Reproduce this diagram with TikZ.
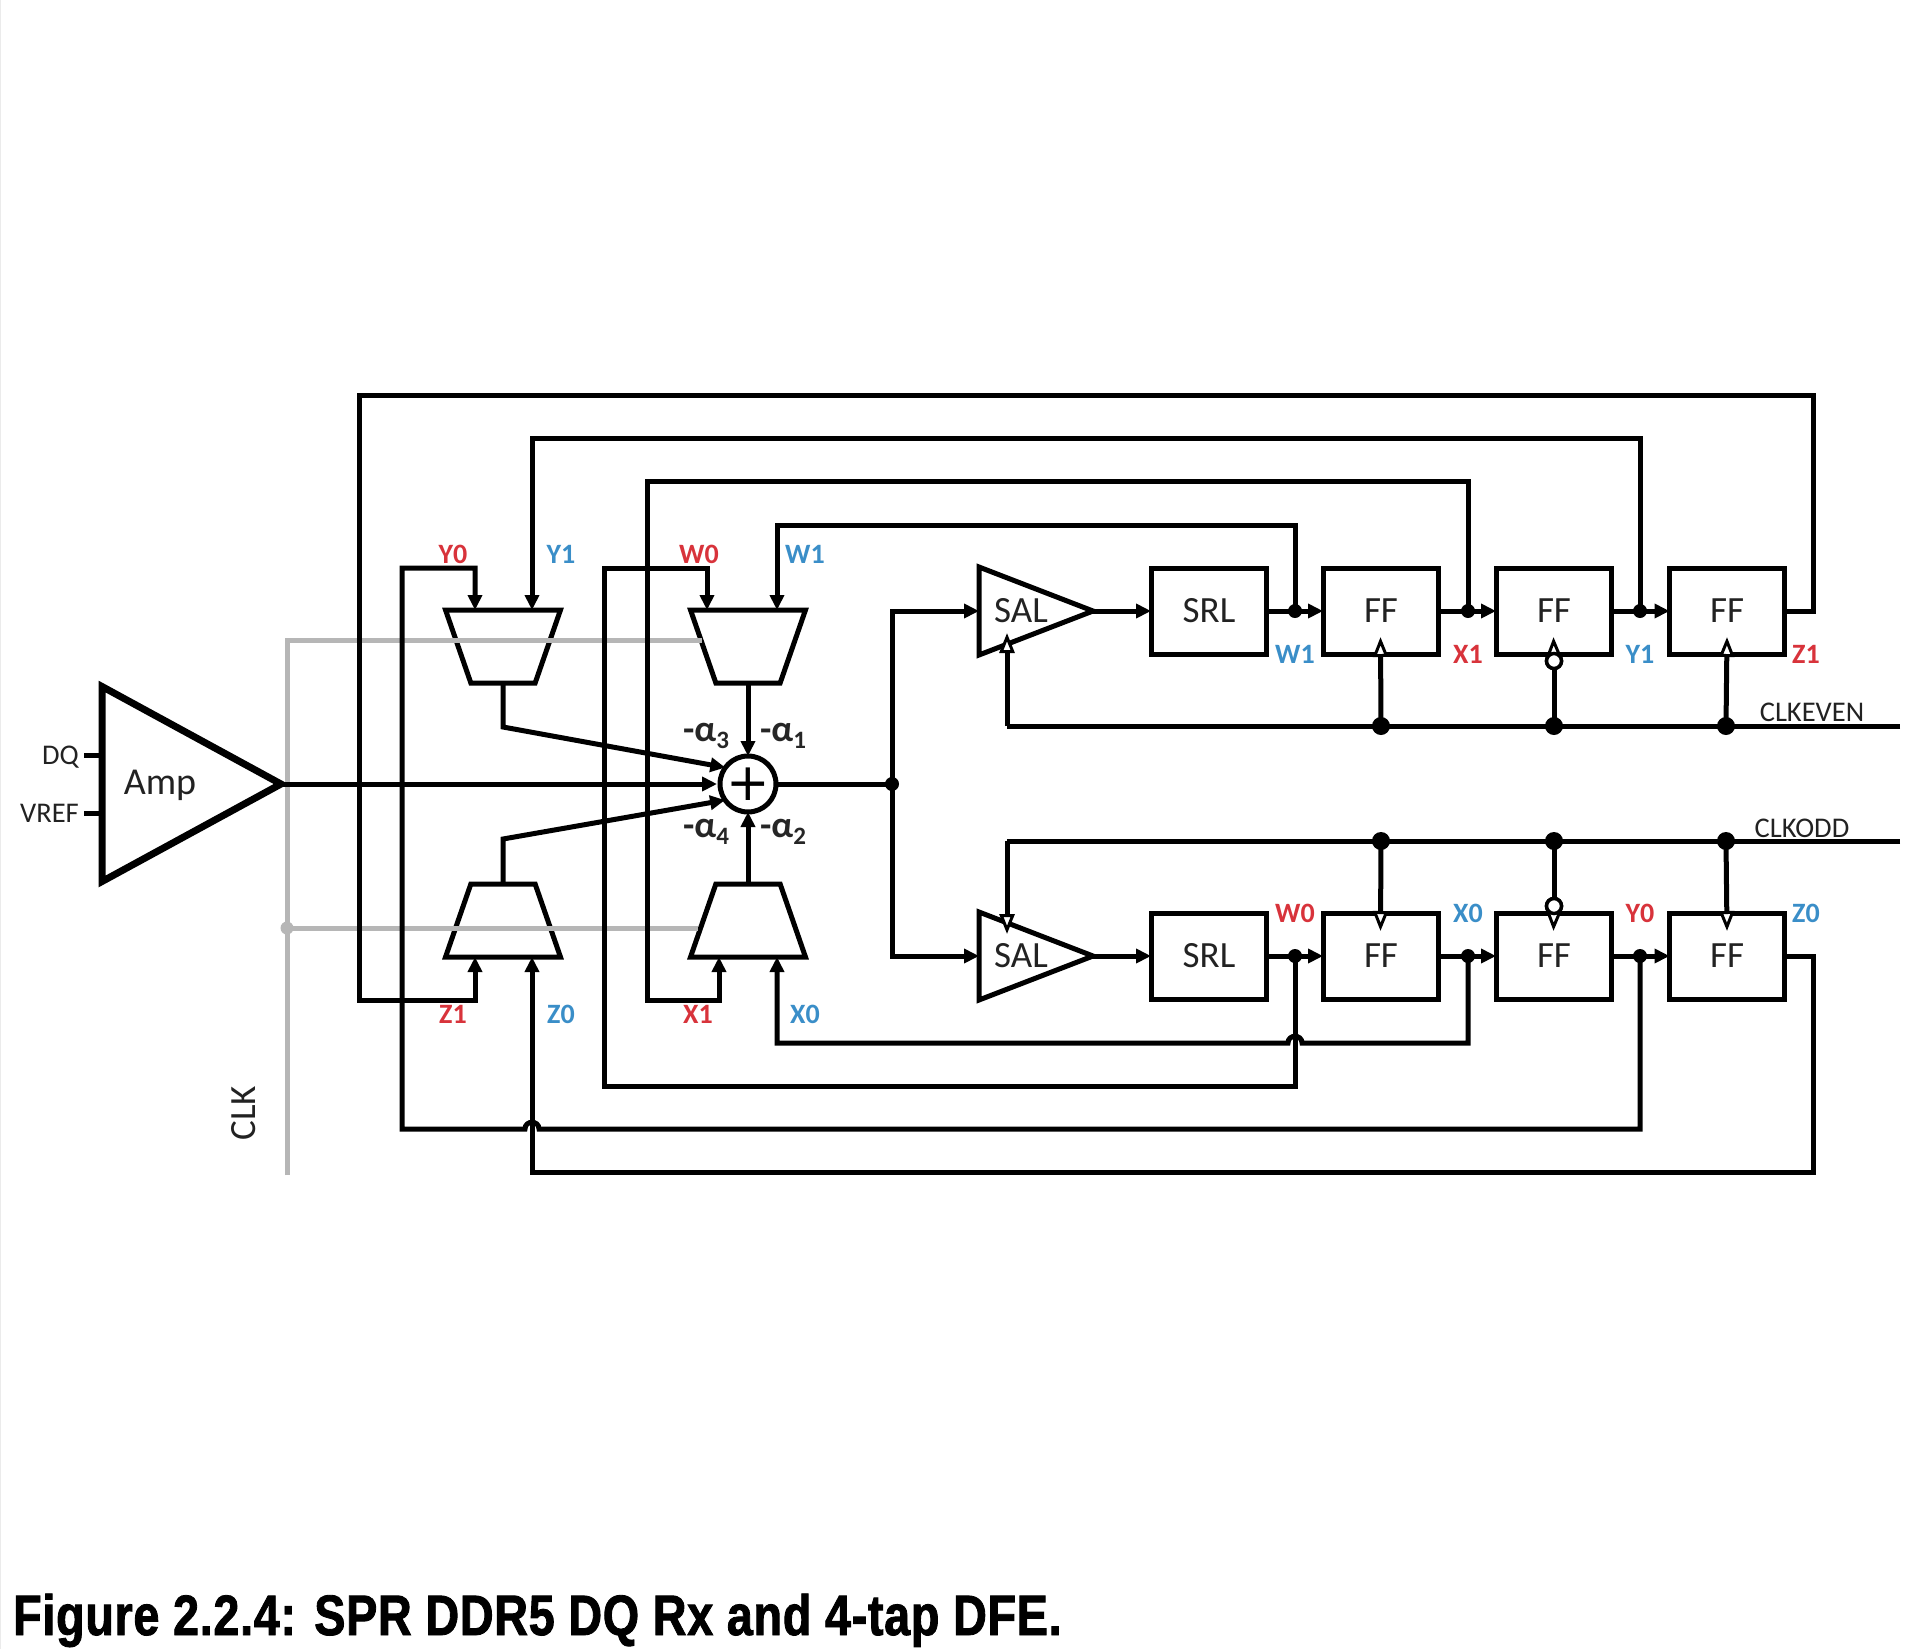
\documentclass[tikz,border=0pt]{standalone}
\usepackage{fontspec}
\setmainfont{Carlito}
\newfontfamily\capfont[FakeStretch=0.82,LetterSpace=1.2,BoldFeatures={FakeBold=1.5}]{Liberation Sans}
\newfontfamily\plusfont{DejaVu Sans}
\usetikzlibrary{arrows.meta,shapes.geometric,calc}
\definecolor{lblred}{HTML}{D8333B}
\definecolor{lblblue}{HTML}{3A8EC8}
\definecolor{clkgray}{HTML}{B6B6B6}
\definecolor{txtgray}{HTML}{222222}
\newcommand{\alphalabel}[1]{-α\raisebox{-7pt}{\fontsize{25}{25}\selectfont #1}}
\newcommand{\shapebody}{\phantom{\rule{10pt}{10pt}}}
\tikzset{
  x=1pt,y=-1pt,
  wire/.style={line width=5pt,draw=black,line join=miter},
  graywire/.style={line width=5pt,draw=clkgray},
  wtip/.style={-{Triangle[length=15pt,width=14pt]}},
  clktip/.style={-{Triangle[open,length=20pt,width=15pt,fill=white,line width=3pt]}},
  blockbox/.style={draw,line width=5pt,minimum width=115pt,minimum height=86pt,inner sep=0pt,outer sep=0pt},
  muxshape/.style={draw,line width=5pt,trapezium,trapezium stretches=true,trapezium left angle=68.5,trapezium right angle=68.5,minimum width=115pt,minimum height=73pt,inner sep=0pt,outer sep=0pt},
  salshape/.style={draw,line width=5pt,isosceles triangle,isosceles triangle stretches=true,minimum width=88pt,minimum height=114pt,inner sep=0pt,outer sep=0pt},
  ampshape/.style={draw,line width=7pt,isosceles triangle,isosceles triangle stretches=true,minimum width=195pt,minimum height=179pt,inner sep=0pt,outer sep=0pt},
  bigdot/.style={circle,fill=black,minimum size=18pt,inner sep=0pt,outer sep=0pt},
  smalldot/.style={circle,fill=black,minimum size=14pt,inner sep=0pt,outer sep=0pt},
  bubble/.style={circle,draw,line width=3.5pt,fill=white,minimum size=15pt,inner sep=0pt,outer sep=0pt},
  blocktext/.style={font=\fontsize{37}{37}\selectfont,text=txtgray,inner sep=0pt},
  lblr/.style={font=\fontsize{28}{28}\selectfont\bfseries,text=lblred,inner sep=0pt},
  lblb/.style={font=\fontsize{28}{28}\selectfont\bfseries,text=lblblue,inner sep=0pt},
  sigtext/.style={font=\fontsize{28.5}{28.5}\selectfont,text=txtgray,inner sep=0pt},
  coef/.style={font=\fontsize{37}{37}\selectfont\bfseries,text=black!85,inner sep=0pt},
}
\begin{document}
\begin{tikzpicture}
\useasboundingbox (0,0) rectangle (1920,1649);
\fill[white] (0,0) rectangle (1920,1649);
\draw[line width=1.5pt,draw=black!8] (0,0) -- (0,1649);

% blocks
\node[ampshape,anchor=apex] (amp) at (281,784) {\shapebody};
\node[muxshape,shape border rotate=180] (mux1) at (503,646.5) {\shapebody};
\node[muxshape,shape border rotate=180] (mux2) at (748,646.5) {\shapebody};
\node[muxshape] (mux3) at (503,920.5) {\shapebody};
\node[muxshape] (mux4) at (748,920.5) {\shapebody};
\node[circle,draw,line width=5pt,fill=white,minimum size=56pt,inner sep=0pt,outer sep=0pt] (sum) at (748,784) {};
\node[salshape,anchor=apex] (sal1) at (1093,611) {\shapebody};
\node[salshape,anchor=apex] (sal2) at (1093,956) {\shapebody};
\node[blockbox] (srl1) at (1208.5,611) {};
\node[blockbox] (ff1) at (1380.5,611) {};
\node[blockbox] (ff2) at (1553.5,611) {};
\node[blockbox] (ff3) at (1727,611) {};
\node[blockbox] (srl2) at (1208.5,956) {};
\node[blockbox] (ff4) at (1380.5,956) {};
\node[blockbox] (ff5) at (1553.5,956) {};
\node[blockbox] (ff6) at (1727,956) {};

% junctions
\node[smalldot] (jsum) at (892,784) {};
\node[smalldot] (dw1) at (1295,611) {};
\node[smalldot] (dx1) at (1468,611) {};
\node[smalldot] (dy1) at (1640,611) {};
\node[smalldot] (dw0) at (1295,956) {};
\node[smalldot] (dx0) at (1468,956) {};
\node[smalldot] (dy0) at (1640,956) {};
\node[bigdot] (ce1) at (1381,726) {};
\node[bigdot] (ce2) at (1554,726) {};
\node[bigdot] (ce3) at (1726,726) {};
\node[bigdot] (co1) at (1381,841) {};
\node[bigdot] (co2) at (1554,841) {};
\node[bigdot] (co3) at (1726,841) {};
\node[circle,fill=clkgray,minimum size=13pt,inner sep=0pt] (jclk) at (287,928) {};
\node[bubble] (be) at (1554,661) {};
\node[bubble] (bo) at (1554,906) {};

% free ends and corners
\coordinate (clktop) at (287,640);
\coordinate (clkbot) at (287,1175);
\coordinate (clktopend) at (702,640);
\coordinate (clkbotend) at (698,928);
\coordinate (ceend) at (1900,726);
\coordinate (coend) at (1900,841);
\coordinate (ceturn) at (1007,726);
\coordinate (coturn) at (1007,841);
\coordinate (ceclk) at (1007,633);
\coordinate (coclk) at (1007,934);
\coordinate (dqend) at (84,755.5);
\coordinate (vrend) at (84,813);
\coordinate (kn1) at (503,727);
\coordinate (kn3) at (503,839);
\coordinate (splittop) at (892,611);
\coordinate (splitbot) at (892,956);
\coordinate (z1out) at (1813,611);
\coordinate (z0out) at (1813,956);
\coordinate (railz1) at (1813,395);
\coordinate (leftz1) at (359,395);
\coordinate (botz1) at (359,1000);
\coordinate (endz1) at (475,1000);
\coordinate (ry1) at (1640,438);
\coordinate (topy1) at (532,438);
\coordinate (ex1) at (647,481);
\coordinate (ry0) at (1468,481);
\coordinate (rw1) at (1295,525);
\coordinate (topw1) at (777,525);
\coordinate (botx1) at (647,1000);
\coordinate (endx1) at (719,1000);
\coordinate (hopxr) at (1302,1043);
\coordinate (hopxl) at (1288,1043);
\coordinate (railx0) at (777,1043);
\coordinate (railw0) at (604,1086);
\coordinate (topw0) at (707,568);
\coordinate (hopyr) at (539,1129);
\coordinate (hopyl) at (525,1129);
\coordinate (raily0) at (402,1129);
\coordinate (topy0) at (475,568);
\coordinate (railz0) at (532,1172);

% clock network (gray)
\draw[graywire] (clkbot) -- (clktop) -- (clktopend);
\draw[graywire] (jclk.center) -- (clkbotend);

% main forward path
\draw[wire,wtip] (amp.apex) -- ([xshift=-3pt]sum.west);
\draw[wire] (sum.east) -- (jsum.center);
\draw[wire,wtip] (jsum.center) |- (sal1.lower side |- splittop);
\draw[wire,wtip] (jsum.center) |- (sal2.lower side |- splitbot);
\draw[wire,wtip] (mux1.top side) -- (kn1) -- (sum.144);
\draw[wire,wtip] (mux3.top side) -- (kn3) -- (sum.215);
\draw[wire,wtip] (mux2.top side) -- (sum.north);
\draw[wire,wtip] (mux4.top side) -- (sum.south);
\draw[wire] (dqend) -- (amp.lower side |- dqend);
\draw[wire] (vrend) -- (amp.lower side |- vrend);

% data chains
\draw[wire,wtip] (sal1.apex) -- (srl1.west);
\draw[wire,wtip] (sal2.apex) -- (srl2.west);
\draw[wire] (srl1.east) -- (dw1.center);
\draw[wire,wtip] (dw1.center) -- (ff1.west);
\draw[wire] (ff1.east) -- (dx1.center);
\draw[wire,wtip] (dx1.center) -- (ff2.west);
\draw[wire] (ff2.east) -- (dy1.center);
\draw[wire,wtip] (dy1.center) -- (ff3.west);
\draw[wire] (srl2.east) -- (dw0.center);
\draw[wire,wtip] (dw0.center) -- (ff4.west);
\draw[wire] (ff4.east) -- (dx0.center);
\draw[wire,wtip] (dx0.center) -- (ff5.west);
\draw[wire] (ff5.east) -- (dy0.center);
\draw[wire,wtip] (dy0.center) -- (ff6.west);

% feedback, upper half
\draw[wire,wtip] (ff3.east) -- (z1out) -- (railz1) -- (leftz1) -- (botz1) -- (endz1) -- (mux3.bottom side -| endz1);
\draw[wire,wtip] (dy1.center) -- (ry1) -- (topy1) -- (mux1.bottom side -| topy1);
\draw[wire,wtip] (dx1.center) -- (ry0) -- (ex1) -- (botx1) -- (endx1) -- (mux4.bottom side -| endx1);
\draw[wire,wtip] (dw1.center) -- (rw1) -- (topw1) -- (mux2.bottom side -| topw1);

% feedback, lower half
\draw[wire,wtip] (dx0.center) |- (hopxr) .. controls +(0,-9) and +(0,-9) .. (hopxl) -- (railx0) -- (mux4.bottom side -| railx0);
\draw[wire,wtip] (dw0.center) |- (railw0) |- (topw0) -- (mux2.bottom side -| topw0);
\draw[wire,wtip] (dy0.center) |- (hopyr) .. controls +(0,-9) and +(0,-9) .. (hopyl) -- (raily0) |- (topy0) -- (mux1.bottom side -| topy0);
\draw[wire,wtip] (ff6.east) -- (z0out) |- (railz0) -- (mux3.bottom side -| railz0);

% clocks
\draw[wire] (ceend) -- (ceturn);
\draw[wire,clktip] (ceturn) -- (ceclk);
\draw[wire] (coend) -- (coturn);
\draw[wire,clktip] (coturn) -- (coclk);
\draw[wire,clktip] (ce1.center) -- ([yshift=17pt]ff1.south);
\draw[wire,clktip] (ce3.center) -- ([yshift=17pt]ff3.south);
\draw[wire,clktip] (co1.center) -- ([yshift=-18pt]ff4.north);
\draw[wire,clktip] (co3.center) -- ([yshift=-18pt]ff6.north);
\draw[wire] (ce2.center) -- (be);
\draw[wire,clktip] (be) -- ([yshift=17pt]ff2.south);
\draw[wire] (co2.center) -- (bo);
\draw[wire,clktip] (bo) -- ([yshift=-18pt]ff5.north);
\node[bubble] (be2) at (be) {};
\node[bubble] (bo2) at (bo) {};

% plus sign and block names
\node[font=\plusfont\fontsize{52}{52}\selectfont,inner sep=0pt] (plus) at (748,784) {+};
\node[blocktext,font=\fontsize{38}{38}\selectfont] (tamp) at (160,785) {Amp};
\node[blocktext] (tsal1) at (1021,611) {SAL};
\node[blocktext] (tsal2) at (1021,956) {SAL};
\node[blocktext] (tsrl1) at (1209,611) {SRL};
\node[blocktext] (tsrl2) at (1209,956) {SRL};
\node[blocktext] (tff1) at (1381,611) {FF};
\node[blocktext] (tff2) at (1554,611) {FF};
\node[blocktext] (tff3) at (1727,611) {FF};
\node[blocktext] (tff4) at (1381,956) {FF};
\node[blocktext] (tff5) at (1554,956) {FF};
\node[blocktext] (tff6) at (1727,956) {FF};

% signal names
\node[sigtext,anchor=east] (tdq) at (79,757) {DQ};
\node[sigtext,anchor=east] (tvref) at (79,813) {VREF};
\node[sigtext,font=\fontsize{37}{37}\selectfont,rotate=90] (tclk) at (244,1113) {CLK};
\node[sigtext] (tce) at (1812,712) {CLKEVEN};
\node[sigtext] (tco) at (1802,828) {CLKODD};

% tap labels
\node[lblr] (l1) at (453,554) {Y0};
\node[lblb] (l2) at (561,554) {Y1};
\node[lblr] (l3) at (699,554) {W0};
\node[lblb] (l4) at (805,554) {W1};
\node[lblr] (l5) at (453,1014) {Z1};
\node[lblb] (l6) at (561,1014) {Z0};
\node[lblr] (l7) at (698,1014) {X1};
\node[lblb] (l8) at (805,1014) {X0};
\node[lblb] (l9) at (1295,654) {W1};
\node[lblr] (l10) at (1468,654) {X1};
\node[lblb] (l11) at (1640,654) {Y1};
\node[lblr] (l12) at (1806,654) {Z1};
\node[lblr] (l13) at (1295,913) {W0};
\node[lblb] (l14) at (1468,913) {X0};
\node[lblr] (l15) at (1640,913) {Y0};
\node[lblb] (l16) at (1806,913) {Z0};

% coefficients
\node[coef] (a3) at (706,736) {\alphalabel{3}};
\node[coef] (a1) at (783,736) {\alphalabel{1}};
\node[coef] (a4) at (706,832) {\alphalabel{4}};
\node[coef] (a2) at (783,832) {\alphalabel{2}};

% caption
\node[anchor=base west,inner sep=0pt,font=\capfont\bfseries\fontsize{57}{57}\selectfont] (cap) at (13,1635) {Figure 2.2.4: SPR DDR5 DQ Rx and 4-tap DFE.};
\end{tikzpicture}
\end{document}
